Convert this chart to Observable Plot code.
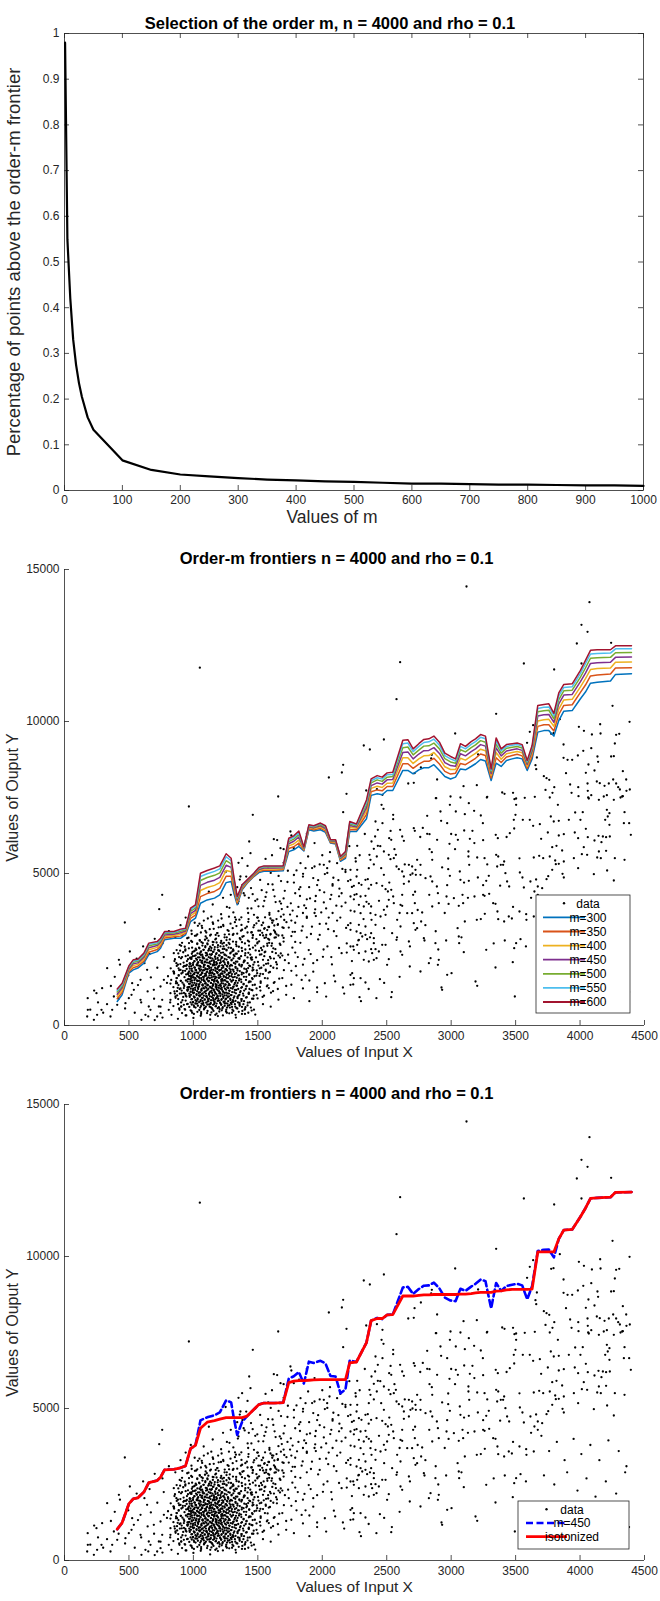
<!DOCTYPE html>
<html><head><meta charset="utf-8">
<script src="https://cdn.jsdelivr.net/npm/d3@7"></script>
<script src="https://cdn.jsdelivr.net/npm/@observablehq/plot@0.6"></script>
<style>
body{margin:0;background:#fff;}
#wrap{position:relative;width:660px;height:1601px;background:#fff;}
#wrap svg{position:absolute;left:0;}
</style></head><body><div id="wrap"></div>
<script>
// ---------- Panel 1 data ----------
const title1 = "Selection of the order m, n = 4000 and rho = 0.1";
const xLabel1 = "Values of m";
const yLabel1 = "Percentage of points above the order-m frontier";
const orderM = [1,5,10,15,20,25,30,40,50,100,150,200,250,300,350,400,450,500,550,600,650,700,750,800,850,900,950,1000];
const pctAbove = [0.98,0.55,0.42,0.33,0.275,0.235,0.205,0.16,0.133,0.066,0.045,0.035,0.031,0.027,0.024,0.022,0.020,0.019,0.017,0.015,0.015,0.014,0.013,0.013,0.012,0.011,0.011,0.010];
const ticksM = [0,100,200,300,400,500,600,700,800,900,1000];
const ticksPct = [0,0.1,0.2,0.3,0.4,0.5,0.6,0.7,0.8,0.9,1];

// ---------- Panels 2 & 3 data ----------
const title2 = "Order-m frontiers n = 4000 and rho = 0.1";
const xLabel2 = "Values of Input X";
const yLabel2 = "Values of Ouput Y";
const ticksX = [0,500,1000,1500,2000,2500,3000,3500,4000,4500];
const ticksY = [0,5000,10000,15000];

const frontierX = [409,447,499,533,569,616,654,719,745,776,848,900,939,978,1016,1055,1107,1164,1205,1254,1293,1314,1340,1378,1417,1469,1508,1547,1624,1697,1740,1779,1818,1857,1896,1934,1986,2025,2064,2103,2141,2180,2213,2265,2343,2379,2426,2465,2503,2547,2625,2664,2705,2749,2788,2827,2866,2909,2951,2995,3034,3072,3111,3155,3189,3228,3266,3310,3349,3388,3429,3473,3512,3551,3590,3628,3672,3719,3758,3797,3835,3874,3939,4003,4042,4081,4133,4236,4275,4399];
const m300 = [790,1010,1720,1830,1890,2050,2330,2430,2540,2820,2870,2870,2980,3420,3530,4020,4130,4190,4300,4700,4740,4350,3970,4460,4680,4900,5030,5070,5070,5090,5720,5780,5890,5740,6440,6400,6440,6350,6000,5970,5400,5500,6380,6380,6800,7570,7620,7590,7730,7730,8390,8390,8280,8410,8480,8480,8580,8390,8190,8110,8170,8440,8410,8520,8610,8750,8700,8060,8630,8520,8720,8770,8810,8770,8390,8770,9650,9700,9700,9520,10030,10340,10360,10750,10970,11260,11290,11330,11550,11570];
const m350 = [880,1090,1770,1900,1950,2120,2410,2500,2610,2880,2920,2940,3030,3520,3630,4240,4340,4410,4510,4910,4910,4470,4030,4500,4700,4920,5070,5110,5110,5130,5820,5880,6000,5770,6480,6440,6490,6400,6020,6000,5440,5550,6450,6440,6940,7690,7750,7720,7860,7860,8610,8610,8460,8600,8690,8690,8790,8600,8360,8270,8300,8620,8580,8700,8790,8930,8880,8140,8810,8650,8830,8880,8920,8870,8460,8870,9840,9890,9890,9690,10230,10530,10550,10960,11200,11500,11530,11560,11760,11770];
const m400 = [960,1170,1820,1970,2010,2190,2490,2570,2680,2930,2960,3000,3070,3610,3720,4440,4540,4610,4700,5100,5060,4580,4080,4530,4730,4950,5100,5150,5150,5160,5910,5970,6100,5800,6510,6470,6530,6440,6050,6030,5470,5590,6520,6490,7060,7800,7870,7830,7970,7980,8810,8810,8620,8770,8870,8880,8980,8780,8510,8420,8420,8790,8730,8860,8950,9090,9040,8220,8980,8760,8940,8980,9010,8970,8530,8960,10020,10060,10070,9840,10410,10710,10730,11140,11410,11710,11740,11760,11950,11960];
const m450 = [1030,1240,1860,2030,2060,2250,2560,2630,2740,2980,3000,3050,3110,3680,3790,4610,4710,4780,4870,5270,5200,4680,4130,4560,4750,4970,5130,5180,5180,5190,5980,6060,6200,5820,6540,6500,6570,6480,6070,6050,5500,5630,6580,6530,7170,7890,7980,7940,8080,8090,8980,9000,8770,8930,9040,9050,9140,8950,8650,8550,8530,8940,8870,9010,9100,9240,9190,8290,9130,8870,9030,9070,9100,9050,8590,9030,10180,10220,10230,9970,10580,10870,10890,11310,11590,11910,11930,11950,12110,12120];
const m500 = [1100,1300,1900,2080,2110,2300,2620,2680,2790,3030,3040,3100,3150,3750,3860,4770,4870,4940,5020,5420,5320,4770,4180,4590,4760,4980,5160,5210,5210,5210,6050,6130,6280,5840,6560,6530,6610,6520,6080,6080,5520,5670,6630,6570,7270,7980,8080,8030,8170,8190,9140,9160,8900,9060,9190,9200,9290,9100,8780,8670,8630,9070,9000,9140,9230,9370,9320,8350,9260,8960,9120,9150,9180,9130,8640,9100,10320,10350,10370,10090,10720,11010,11030,11460,11760,12080,12100,12110,12260,12270];
const m550 = [1150,1350,1930,2120,2150,2340,2670,2720,2830,3060,3070,3140,3180,3810,3920,4900,4990,5070,5150,5550,5420,4840,4210,4610,4780,5000,5180,5230,5230,5230,6110,6190,6340,5860,6580,6550,6640,6550,6100,6100,5540,5700,6670,6600,7350,8050,8150,8110,8250,8260,9270,9290,9010,9180,9310,9330,9420,9220,8880,8770,8700,9180,9100,9250,9340,9480,9430,8400,9370,9040,9180,9220,9240,9190,8680,9160,10430,10470,10480,10190,10840,11120,11140,11580,11900,12220,12240,12250,12390,12390];
const m600 = [1200,1390,1960,2160,2180,2380,2710,2760,2870,3090,3090,3170,3200,3860,3970,5010,5100,5180,5250,5650,5500,4900,4240,4630,4790,5010,5200,5250,5250,5250,6160,6240,6400,5870,6600,6570,6660,6570,6110,6110,5560,5720,6710,6630,7420,8110,8220,8170,8310,8330,9380,9400,9100,9270,9410,9430,9520,9320,8960,8850,8770,9270,9180,9340,9430,9570,9520,8440,9460,9100,9240,9270,9290,9240,8720,9210,10530,10560,10580,10270,10940,11220,11240,11680,12010,12340,12360,12360,12490,12490];
const isotonized = [1030,1240,1860,2030,2060,2250,2560,2630,2740,2980,3000,3050,3110,3680,3790,4350,4550,4600,4650,4700,4700,4700,4700,4700,4750,4970,5130,5180,5180,5190,5850,5900,5920,5920,5930,5940,5950,5950,5950,5950,5950,5950,6500,6530,7170,7890,7960,7960,8080,8090,8700,8700,8700,8720,8740,8740,8750,8750,8750,8750,8750,8760,8760,8780,8800,8820,8820,8820,8860,8870,8900,8920,8920,8920,8920,8930,10150,10150,10150,10150,10580,10870,10890,11310,11590,11910,11930,11950,12110,12120];

const frontierNames = ["m=300","m=350","m=400","m=450","m=500","m=550","m=600"];
const frontierColors = ["#0072BD","#D95319","#EDB120","#7E2F8E","#77AC30","#4DBEEE","#A2142F"];
const legend3Names = ["data","m=450","isotonized"];

// scatter sample (input X, output Y) pairs
const scatterXY = [
// sparse upper points
1050,11770,2162,8575,2152,8322,2051,8158,2188,7620,1658,7533,
3119,14441,4073,13925,4011,13180,4058,12950,3975,12566,4241,12588,4011,11908,3799,11711,3564,11908,2604,11952,2576,10735,3349,10252,4252,10515,4384,9989,3991,9825,4156,9910,4030,9693,4092,9572,4159,9605,4280,9562,4304,9594,3031,9605,3776,9594,3794,9616,3843,10076,3636,9879,3610,9660,3589,9298,2322,9211,2369,9079,2478,9408,3872,9243,4270,9276,3872,8805,3903,8739,3939,8739,3983,8882,4025,9036,4087,9123,4135,8848,4140,8673,4241,8848,4262,8859,4065,8585,4045,8311,4112,8388,3891,8300,4332,8366,4358,8092,3665,8816,3654,8563,3660,8431,3719,8202,3740,8136,3761,8081,3732,7750,3786,7653,3800,7839,3923,7927,3986,7839,4058,7960,4060,7719,4087,7576,4130,8026,4153,7971,4190,7883,4223,7960,4257,8092,4280,7960,4296,7839,4309,7763,4332,7543,4360,7719,4386,7763,4314,7500,4208,7576,4146,7423,3988,7543,4068,7467,3934,7653,2881,7478,2995,7533,3096,7872,3199,7905,3280,7522,3396,7664,3414,7620,3480,7653,3504,7467,3649,7522,2891,8092,2667,7960,2710,7982,2765,8487,2716,8300,2845,8783,2850,8903,2341,7730,2424,7774,2467,7587,3209,8914,
// right-hand sparse cloud
2884,7478,2990,7259,3072,7500,3137,7314,3277,7500,3491,7445,3504,7259,3571,7489,3765,7500,3828,7259,4063,7500,4184,7533,4262,7423,4327,7533,2460,7259,2475,7127,2550,6930,2550,6787,2814,6897,2917,7040,2922,6733,2969,6656,3036,7040,3106,6952,3178,7061,3230,6908,3246,6656,3499,6930,3486,6765,3556,6765,3610,6765,3636,6568,3688,6623,3773,6875,3796,6711,3835,6733,3913,6765,3962,7007,4003,6765,4021,7018,4045,6469,4208,7094,4228,6985,4215,6875,4195,6765,4228,6601,4345,7018,4381,6656,4340,6656,2413,6711,2431,6436,2467,6656,2710,6491,2718,6404,2604,6436,
2814,6305,2832,6294,2891,6108,2987,5976,3036,6272,3052,6108,3101,6415,3145,6140,3165,6404,3248,6097,3346,6272,3362,6162,3455,6327,3489,6480,3698,6140,3750,6349,3835,6250,3874,6294,3959,6349,3985,6162,4060,6195,4143,6239,4177,6217,4202,6195,4231,6217,4394,6272,4112,6086,4166,6031,2410,6217,2382,6053,2519,6162,2535,6108,2620,6217,2633,6075,2832,5800,2271,5910,2400,5812,2431,5910,2366,5614,2374,5450,2423,5559,2478,5724,2516,5614,2529,5472,2555,5505,2571,5614,2736,5450,2762,5285,2853,5450,2977,5494,3134,5724,3134,5559,3140,5285,3202,5526,3259,5505,3349,5614,3365,5559,3385,5285,3411,5395,3641,5526,3683,5581,3714,5505,3765,5559,3784,5866,3817,5910,3807,5428,3835,5318,3874,5395,3861,5757,3952,5505,4014,5636,4029,5866,4055,5614,4146,5724,4133,5526,4161,5505,4202,5746,4270,5505,4345,5450,2258,5505,2260,5395,2271,5121,2266,4901,
2219,5121,2361,5176,2457,5176,2478,4956,2576,5230,2594,5143,2620,5066,2633,4901,2672,5285,2684,4956,2697,5230,2723,5121,2726,4956,2762,4956,2801,4847,2840,4901,2853,4737,2977,5143,2990,4923,3067,5066,3072,4792,3137,4759,3207,4869,3248,4616,3272,4759,3292,4923,3357,5230,3403,5285,3421,5011,3434,4737,3450,4572,3533,5033,3553,4869,3564,4540,3615,4737,3659,4803,3672,4572,3706,4518,3740,4814,3753,4912,3784,5121,3812,5307,3864,4989,3874,4869,3985,5176,4107,4978,4210,5099,4262,4770,2219,4792,2245,4594,2284,4682,2304,4627,2335,4792,2353,4814,2379,4627,2421,4682,2465,4594,2491,4485,2509,4408,2535,4463,2633,4660,2672,4737,2705,4298,2889,4572,2969,4616,2897,4353,2964,4243,3021,4189,3088,4298,3181,4243,3248,4298,3259,4265,3295,4331,3646,4408,3672,4298,
2219,4243,2266,4320,2297,4243,2335,4265,2343,4068,2361,4002,2379,3915,2284,3969,2322,3915,2250,3750,2297,3695,2374,3695,2413,3640,2452,3586,2478,3805,2503,3915,2550,4243,2516,4134,2555,4024,2607,3969,2620,3936,2491,3640,2581,3476,2659,3695,2697,3695,2710,3366,2767,3421,2607,3257,2718,4024,2775,3717,2853,3915,2904,4024,3059,3936,3093,4024,3106,3421,3199,3476,3261,3673,3326,4024,3344,4002,3359,3750,3365,3498,3411,3421,3447,3586,3471,3520,3530,3750,3582,3662,3584,3476,3641,3586,2219,3366,2284,3311,2335,3257,2382,3476,2413,3311,
2219,3147,2266,3092,2297,3037,2310,2928,2335,2983,2348,2840,2379,3037,2400,2873,2400,2708,2379,2511,2413,2511,2284,2818,2271,2654,2245,2489,2219,2599,2284,2379,2335,2434,2387,2379,2322,2160,2361,2105,2400,2160,2421,2215,2439,2434,2465,2654,2491,2654,2542,3037,2576,2818,2607,2434,2620,2325,2516,2182,2503,1996,2447,1524,2672,2763,2679,1941,2723,3147,2736,3202,2762,1776,2788,2873,2793,2796,2840,2215,2827,2050,2904,2160,2878,2708,2961,2796,2897,1996,2969,1667,3003,1722,3059,2928,3062,2708,3098,2412,3189,1447,3202,1305,3272,2489,3344,1908,3416,2796,3478,2083,3489,2544,3504,2708,3538,2840,2925,1250,2930,1173,3494,954,2219,1667,2219,1338,2232,1722,2245,1557,2297,1557,2335,1414,2289,932,2535,932,
// lower right (under the first legend)
3700,4100,3760,3600,3820,3900,3880,3300,3950,4000,4010,3500,4080,3800,4150,3300,4220,3950,4300,3600,4360,3100,3720,2800,3800,2500,3900,2900,3980,2300,4050,2700,4120,2100,4200,2600,4280,2200,4350,2900,3750,1800,3850,1500,3950,1900,4060,1300,4170,1700,4260,1200,4340,1600,3780,900,3920,700,4100,1000,4240,600,4380,1100,
// left / middle sparse points
965,7204,1461,6930,1433,6053,1443,5669,1378,5505,1365,4901,1624,6129,1676,5833,1753,6382,1779,5833,1831,5340,1870,5176,1940,5230,2012,5285,2038,5176,2056,5395,2115,5340,2162,7018,2180,5121,758,4298,735,3827,468,3388,507,2434,422,2160,331,1886,248,1064,292,1228,181,515,176,296,253,351,287,515,228,186,370,515,357,296,409,680,383,954,473,735,499,899,538,1173,525,1393,590,1502,590,844,641,1831,628,351,597,186,654,625,667,515,693,1173,732,625,719,296,745,1283,758,844,809,515,771,1502,822,1064,861,954,874,1393,900,1831,745,406,822,844,892,515,926,680,
420,880,445,1230,470,560,495,1650,520,1010,545,420,570,1330,595,760,620,2050,645,1120,670,1580,695,880,720,1900,745,620,770,2250,795,1400,820,760,845,1780,870,2480,895,1050,560,2200,610,2600,660,2350,700,2850,760,2700,810,3100,860,2900,900,3300,940,3550,980,3800,650,300,700,180,760,260,830,350,880,220,940,330,1000,250,1060,380,1130,200,1190,310,1260,420,1330,260,1400,380,1470,520,1540,700,1600,620,1660,850,330,700,360,1300,390,1600,430,2000,300,420,260,760,230,1150,200,520,180,900,
// middle band
1610,5600,1650,6100,1700,5800,1760,6250,1820,5950,1880,6300,1940,6000,2000,5600,1720,1300,1780,900,1840,1500,1900,800,1960,1250,2030,950,2100,1450,2170,1050,2240,1350,2300,800,2360,1200,2420,900,2480,1400,2540,1100,2600,1600,2280,2800,2320,3500,2360,4500,2400,5300,2440,4100,2480,3200,2520,4700,2560,5800,2600,3700,2640,5300,2680,2600,2720,4400,2760,6200,2800,3300,2850,5700,2900,2500,2950,3700,3000,6300,3050,3200,3100,4700,2250,4300,2290,5600,2330,6300,2370,2900,2450,5900,2530,6400,2580,2900,2620,4300,2700,5000,2740,3800,2780,6500,2830,4300,2880,3100,2930,5200,2980,4000,3030,5800,3080,2900,3130,4200,3180,6000,3230,3500,3280,5300,3330,2700,3380,4600,3430,6200,3480,3900,3530,5500,3580,2600,3620,4200,
// diagonal extension of the cloud
1310,3720,1345,4010,1372,3560,1398,4280,1421,3850,1447,4520,1470,3640,1496,4150,1518,4790,1542,3920,1567,4380,1590,3700,1614,4640,1638,4060,1661,4920,1686,3830,1709,4430,1733,5090,1756,4020,1780,4700,1804,3590,1827,4260,1851,4990,1874,3860,1898,4550,1921,5180,1945,4090,1968,4780,1992,3720,2015,4380,2039,5020,2062,4160,2086,4860,2109,3940,2133,4500,2156,5150,2180,4040,1330,3480,1380,4620,1430,4200,1480,5000,1530,4450,1580,5200,1630,4250,1680,4750,1730,3900,1780,4950,1830,4550,1880,4150,1930,4850,1980,4450,2030,3850,2080,4650,2130,4250,2200,4750,1260,3900,1290,4300,1360,4800,1420,5250,1500,3550,1550,4100,1620,3450,1700,3650,1760,3450,1850,3700,1950,3600,2050,3550,
// right halo of the dense cloud
1520,1150,1548,980,1575,1320,1602,1080,1630,1430,1655,1200,1690,1560,1720,1010,1760,1340,1800,1650,1850,1220,1900,1480,1960,1100,2020,1390,2090,1640,2160,1250,
1515,1880,1550,2280,1585,1740,1612,2420,1648,2010,1675,2650,1702,1820,1735,2330,1768,2560,1795,1950,1830,2720,1862,2190,1895,2480,1930,1770,1968,2830,2005,2260,2040,2600,2075,2010,2110,2940,2150,2380,2190,2700,2230,2120,
1530,3300,1565,2980,1598,3520,1625,3130,1660,3760,1690,2960,1722,3400,1750,3650,1788,3080,1815,3900,1848,3260,1880,3580,1912,3010,1945,3820,1980,3340,2012,4050,2046,3170,2080,3700,2115,3450,2150,3920,2185,3210,2220,3780,2245,4150,
1560,4230,1620,4460,1670,4080,1730,4720,1790,4350,1850,4900,1905,4180,1960,4620,2020,4980,2070,4300,2125,4780,2180,5050,2230,4560,
1600,5020,1700,5350,1800,5100,1890,5560,1980,5300,2060,5700,2140,5480,2210,5900,
1450,3850,1480,4100,1390,4350,1300,4700,1410,4900,1250,5050,1560,5480,1350,5350,
1580,2850,1610,2700,1645,3000,1700,2880,1740,3220,1790,2750,1840,3120,1880,2900,1920,3250,1980,2980,2030,3350,2090,3100,2140,3550,2200,3300,
1740,2050,1790,2400,1850,2000,1910,2350,1960,2150,2010,2500,2070,2250,2130,2550,2190,2400,2240,2600,
1510,2450,1545,2600,1580,2150,1620,1900,1660,2300,1710,2150,1760,1800,1810,2250,1870,1650,1930,2050,
// edges of the dense cloud
845,640,862,910,878,1240,890,560,903,1470,915,830,928,1960,940,2280,952,1170,965,2540,978,760,986,1620,850,1720,868,2050,885,1880,897,2460,912,2720,925,1350,938,1040,950,2120,962,2890,975,1510,988,2360,856,1050,872,1560,889,2250,906,630,918,1800,933,2590,946,950,958,1690,971,2030,983,2780,848,2380,865,1390,881,700,894,2650,909,1150,921,2410,936,520,948,1860,961,1260,974,2230,987,3010,857,2180,873,1130,886,1640,899,2020,914,2950,927,1070,
1425,1890,1438,2510,1450,1170,1462,2960,1474,1620,1486,2240,1498,890,1510,2770,1522,1450,1534,3050,1546,1980,1558,2430,1570,1290,1582,3240,1594,1760,1606,2620,1618,1130,1630,2890,1642,2080,1654,3310,1666,1540,1678,2370,1432,2760,1444,1440,1456,2170,1468,980,1480,2630,1492,1810,1504,3120,1516,1270,1528,2340,1540,1690,1552,2880,1564,2030,1576,1550,1588,2720,1600,2210,1612,3380,1624,1400,1636,2510,1648,1880,1660,2960,1672,2240,1429,1050,1441,2330,1453,3070,1465,2000,1477,1340,1489,2840,1501,2090,1513,1630,1525,2550,1537,940,1549,3180,1561,1840,1573,2690,1585,1230,1597,2990,
912,410,945,330,978,500,1004,380,1031,450,1057,320,1082,530,1106,410,1131,350,1156,480,1180,390,1204,540,1229,330,1253,460,1278,400,1303,520,1327,350,1352,450,1377,380,1401,540,1426,420,1452,490,1480,360,1060,440,1140,430,1220,500,1300,420,1380,480,990,420,1170,350,
1012,2950,1035,3280,1058,3060,1081,3450,1104,2870,1127,3170,1150,3390,1173,2980,1196,3230,1219,3520,1242,2900,1265,3140,1288,3350,1311,3010,1334,3270,1357,3480,1380,2920,1403,3200,1426,3410,1449,3060,1472,3300,1495,3550,1518,3120,1541,3380,1564,2900,1587,3240,1610,3460,1633,3090,1656,3330,1679,3580,1047,3350,1093,3110,1139,3580,1185,3040,1231,3310,1277,3000,1323,3560,1369,3120,1415,3250,1461,2980,1507,3440,1553,3200,1599,3010,1645,3500,1691,3230,
// dense cloud
905,620,932,540,951,700,968,610,985,480,1003,660,1017,590,1030,720,1046,510,1059,640,1071,700,1084,560,1097,620,1110,480,1122,690,1135,600,1149,530,1162,710,1176,640,1188,570,1201,460,1215,680,1228,600,1242,730,1255,520,1268,650,1283,590,1296,700,1310,480,1325,620,1341,560,1358,690,1377,610,1398,520,1420,660,1446,590,
882,870,905,760,921,940,940,820,956,710,970,980,984,860,997,780,1009,930,1021,720,1033,850,1044,990,1055,800,1066,910,1077,740,1088,860,1099,960,1110,790,1121,880,1132,710,1143,940,1154,830,1165,760,1176,900,1187,980,1198,820,1209,730,1220,870,1231,950,1242,790,1253,880,1264,720,1276,960,1288,840,1300,770,1313,910,1327,810,1342,940,1358,740,1375,870,1393,800,1414,930,1438,760,1465,880,
853,1120,874,990,893,1200,910,1060,926,1230,941,980,955,1140,968,1050,980,1210,992,1100,1003,960,1014,1170,1024,1030,1034,1240,1044,1090,1054,990,1064,1150,1073,1060,1083,1220,1092,1120,1102,970,1111,1180,1121,1040,1130,1110,1140,1230,1150,1000,1159,1160,1169,1070,1179,1200,1189,960,1199,1130,1209,1050,1220,1240,1231,1110,1242,990,1254,1180,1266,1060,1278,1150,1291,1000,1304,1210,1318,1090,1333,1170,1349,980,1366,1130,1385,1050,1406,1200,1430,1080,1458,1160,1490,1010,
822,1380,845,1260,866,1450,884,1330,900,1220,915,1410,929,1300,942,1480,954,1250,966,1370,977,1440,988,1290,998,1210,1008,1400,1018,1330,1028,1480,1037,1260,1046,1360,1055,1430,1064,1210,1073,1310,1082,1470,1091,1380,1100,1240,1109,1340,1118,1450,1127,1280,1136,1400,1145,1220,1154,1330,1163,1490,1172,1370,1181,1260,1190,1430,1199,1310,1209,1210,1219,1390,1229,1470,1239,1280,1249,1350,1260,1440,1271,1230,1283,1330,1296,1460,1309,1270,1323,1400,1338,1310,1354,1480,1371,1240,1390,1370,1411,1290,1434,1450,1460,1330,1490,1220,1522,1400,
803,1620,828,1500,850,1710,869,1560,886,1660,902,1470,917,1740,931,1590,944,1680,956,1520,967,1630,978,1710,988,1480,998,1580,1007,1690,1016,1540,1025,1750,1034,1610,1043,1470,1052,1660,1061,1560,1070,1720,1079,1500,1088,1630,1097,1690,1106,1550,1115,1470,1124,1650,1133,1730,1142,1580,1151,1500,1160,1680,1169,1610,1178,1460,1187,1740,1196,1570,1206,1650,1216,1510,1226,1700,1236,1600,1247,1480,1258,1670,1270,1560,1282,1730,1295,1620,1308,1490,1322,1690,1337,1570,1353,1650,1370,1510,1389,1720,1410,1600,1433,1680,1459,1530,1488,1640,1520,1700,1555,1560,
824,1880,849,1760,871,1960,890,1820,907,1710,922,1930,936,1800,949,1990,961,1740,972,1870,983,1950,993,1780,1003,1700,1012,1900,1021,1820,1030,1980,1039,1740,1048,1860,1057,1930,1066,1720,1075,1810,1084,1970,1093,1880,1102,1750,1111,1850,1120,1940,1129,1790,1138,1900,1147,1720,1156,1830,1165,1990,1174,1870,1183,1760,1192,1920,1201,1810,1211,1700,1221,1890,1231,1960,1241,1780,1252,1850,1263,1940,1275,1730,1287,1830,1300,1970,1313,1770,1327,1900,1342,1810,1358,1980,1376,1740,1395,1870,1416,1790,1440,1950,1466,1830,1495,1720,1527,1900,1562,1800,1600,1960,
853,2120,880,2000,904,2210,924,2070,942,1960,958,2180,972,2050,985,2240,997,1990,1009,2110,1020,2200,1031,2030,1042,1970,1052,2150,1062,2080,1072,2230,1082,1990,1092,2100,1102,2170,1112,1960,1122,2060,1132,2220,1142,2130,1152,2000,1162,2090,1172,2190,1182,2040,1192,2150,1202,1970,1213,2080,1224,2240,1235,2120,1246,2010,1258,2170,1270,2060,1283,1960,1296,2140,1310,2210,1325,2030,1341,2100,1358,2190,1377,1990,1398,2130,1421,2050,1446,2220,1474,2080,1505,1970,1540,2160,1580,2040,1625,2200,
883,2370,912,2250,937,2460,958,2310,977,2200,994,2420,1009,2290,1023,2490,1036,2240,1048,2360,1060,2440,1072,2270,1084,2210,1096,2390,1108,2320,1120,2480,1132,2230,1144,2350,1156,2430,1168,2260,1180,2380,1192,2470,1204,2300,1217,2210,1230,2400,1243,2330,1257,2490,1271,2250,1286,2370,1302,2440,1319,2280,1337,2360,1357,2220,1378,2450,1401,2310,1426,2390,1453,2240,1483,2470,1516,2330,1553,2410,1594,2260,1640,2380,1690,2300,
905,2620,938,2500,966,2710,990,2560,1011,2460,1030,2680,1047,2540,1063,2740,1078,2490,1093,2610,1108,2700,1122,2530,1137,2470,1151,2650,1166,2580,1180,2730,1195,2480,1210,2600,1225,2690,1241,2520,1257,2640,1274,2720,1292,2550,1311,2460,1331,2670,1353,2590,1377,2740,1403,2500,1431,2630,1462,2560,1496,2700,1533,2480,1574,2620,1620,2540,1670,2690,
952,2870,990,2750,1022,2960,1049,2810,1073,2710,1095,2930,1116,2790,1136,2990,1156,2740,1176,2860,1196,2950,1216,2780,1237,2720,1259,2900,1282,2830,1306,2980,1332,2750,1360,2870,1390,2940,1423,2790,1459,2880,1498,2730,1541,2960,1588,2820,1640,2900,1700,2760,1760,2940,
985,3120,1030,3000,1068,3210,1100,3060,1130,2960,1158,3180,1186,3040,1214,3240,1243,2990,1273,3110,1305,3200,1340,3020,1378,3150,1420,3060,1466,3230,1517,2980,1573,3140,1635,3050,1700,3210,1770,3080,
1010,3380,1065,3280,1112,3520,1153,3340,1192,3450,1233,3270,1276,3580,1322,3400,1373,3310,1428,3500,1489,3360,1556,3560,1628,3290,1705,3470,1790,3380,1880,3540,
1080,3750,1150,3980,1215,3660,1280,3870,1350,4080,1425,3700,1505,3920,1590,3640,1680,4010,1770,3780,1860,3950,1940,3700,
1120,4400,1230,4200,1340,4550,1460,4320,1580,4650,1700,4180,1820,4480,1950,4260,2080,4600,2150,4350,
987,690,996,760,1006,610,1015,730,1025,800,1035,650,1044,770,1053,590,1063,720,1072,810,1081,660,1090,580,1099,750,1108,690,1117,800,1126,620,1135,740,1144,570,1153,680,1162,790,1171,630,1180,720,1189,810,1198,600,1207,760,1216,690,1225,560,1234,780,1243,650,1252,730,1261,590,1270,800,1280,670,1290,740,1300,610,1311,780,1322,700,1334,570,1346,760,1359,650,1373,810,1388,700,1404,600,1422,750,
972,940,981,1010,990,870,999,1060,1008,920,1016,830,1025,1000,1033,890,1041,1070,1049,960,1057,840,1065,1030,1073,910,1081,980,1089,850,1097,1050,1105,930,1113,870,1121,1010,1129,960,1137,830,1145,1070,1153,900,1161,990,1169,860,1177,1040,1185,940,1193,880,1201,1060,1209,970,1217,840,1225,1020,1233,910,1241,1070,1249,860,1258,990,1267,930,1276,1050,1286,880,1296,1000,1307,830,1318,960,1330,1060,1343,900,1357,1010,1372,870,1389,980,1408,920,1430,1040,1455,880,
960,1190,969,1270,978,1110,987,1320,996,1160,1005,1080,1013,1240,1021,1310,1029,1130,1037,1200,1045,1290,1053,1090,1061,1170,1069,1330,1077,1230,1085,1100,1093,1280,1101,1150,1109,1320,1117,1210,1125,1080,1133,1260,1141,1140,1149,1300,1157,1190,1165,1110,1173,1270,1181,1330,1189,1160,1197,1240,1205,1090,1213,1300,1221,1180,1229,1120,1237,1290,1245,1210,1254,1080,1263,1250,1272,1320,1281,1140,1291,1230,1301,1100,1312,1280,1323,1170,1335,1310,1348,1200,1362,1090,1377,1260,1394,1150,1413,1300,1435,1200,
955,1440,964,1530,973,1370,982,1560,991,1410,1000,1330,1008,1490,1016,1560,1024,1380,1032,1460,1040,1340,1048,1550,1056,1420,1064,1500,1072,1350,1080,1570,1088,1450,1096,1390,1104,1520,1112,1330,1120,1470,1128,1560,1136,1400,1144,1500,1152,1360,1160,1440,1168,1550,1176,1330,1184,1480,1192,1410,1200,1570,1208,1350,1216,1460,1224,1530,1232,1380,1240,1490,1249,1340,1258,1560,1267,1430,1276,1370,1286,1510,1296,1440,1307,1580,1318,1350,1330,1470,1343,1400,1357,1540,1372,1430,1389,1350,1408,1500,1430,1420,1455,1560,
958,1690,967,1780,976,1620,985,1810,994,1660,1003,1580,1011,1740,1019,1820,1027,1630,1035,1710,1043,1590,1051,1800,1059,1670,1067,1750,1075,1600,1083,1820,1091,1700,1099,1640,1107,1770,1115,1580,1123,1720,1131,1810,1139,1650,1147,1750,1155,1610,1163,1690,1171,1800,1179,1580,1187,1730,1195,1660,1203,1820,1211,1600,1219,1710,1227,1780,1235,1630,1243,1740,1252,1590,1261,1810,1270,1680,1279,1620,1289,1760,1299,1690,1310,1830,1321,1600,1333,1720,1346,1650,1360,1790,1375,1680,1392,1600,1411,1750,1433,1670,1458,1810,
968,1940,978,2030,988,1870,998,2060,1007,1910,1016,1830,1025,1990,1034,2070,1043,1880,1052,1960,1061,1840,1070,2050,1079,1920,1088,2000,1097,1850,1106,2070,1115,1950,1124,1890,1133,2020,1142,1830,1151,1970,1160,2060,1169,1900,1178,2000,1187,1860,1196,1940,1205,2050,1214,1830,1223,1980,1232,1910,1241,2070,1250,1850,1260,1960,1270,2030,1280,1880,1291,1990,1302,1840,1314,2060,1327,1930,1341,1870,1356,2010,1372,1940,1390,2080,1410,1850,1433,1970,1460,1900,
985,2190,996,2280,1007,2120,1018,2310,1028,2160,1038,2080,1048,2240,1058,2320,1068,2130,1078,2210,1088,2090,1098,2300,1108,2170,1118,2250,1128,2100,1138,2320,1148,2200,1158,2140,1168,2270,1178,2080,1188,2220,1198,2310,1209,2150,1220,2250,1231,2110,1243,2190,1255,2300,1268,2080,1282,2230,1297,2160,1313,2320,1330,2100,1349,2210,1370,2280,1394,2130,1420,2240,1450,2170,
1005,2440,1018,2530,1031,2370,1044,2560,1056,2410,1068,2330,1080,2490,1092,2570,1104,2380,1116,2460,1128,2340,1140,2550,1152,2420,1164,2500,1176,2350,1188,2570,1201,2450,1214,2390,1228,2520,1242,2330,1257,2470,1273,2560,1290,2400,1308,2500,1328,2360,1350,2440,1375,2550,1403,2380,
1030,2700,1050,2790,1070,2630,1090,2820,1110,2670,1130,2590,1150,2750,1170,2830,1191,2640,1212,2720,1234,2600,1257,2810,1281,2680,1307,2760,1335,2610,1366,2830,1400,2700
];

// ---------- helpers ----------
const FONT = '"Liberation Sans", Arial, Helvetica, sans-serif';
const AX = "#262626";
const points = [];
for (let i = 0; i < scatterXY.length; i += 2) points.push({x: scatterXY[i], y: scatterXY[i + 1]});
const series = (ys) => frontierX.map((x, i) => ({x, y: ys[i]}));
const frontierSeries = [m300, m350, m400, m450, m500, m550, m600];

function inward(xVals, yVals, fw, fh, allSides) {
  const t = 5, o = {stroke: AX, strokeWidth: 0.8};
  const m = [
    Plot.ruleX(xVals, {x: d => d, insetTop: fh - t, ...o}),
    Plot.ruleY(yVals, {y: d => d, insetRight: fw - t, ...o})
  ];
  if (allSides) {
    m.push(Plot.ruleX(xVals, {x: d => d, insetBottom: fh - t, ...o}));
    m.push(Plot.ruleY(yVals, {y: d => d, insetLeft: fw - t, ...o}));
  }
  return m;
}

function legend(svg, box, rows) {
  const g = d3.select(svg).append("g");
  g.append("rect").attr("x", box.x).attr("y", box.y).attr("width", box.w).attr("height", box.h)
    .attr("fill", "white").attr("stroke", AX).attr("stroke-width", 0.8);
  rows.forEach((r, i) => {
    const cy = box.y0 + i * box.step;
    if (r.type === "dot") {
      g.append("circle").attr("cx", (box.l1 + box.l2) / 2).attr("cy", cy).attr("r", 1.2).attr("fill", "black");
    } else {
      g.append("line").attr("x1", box.l1).attr("x2", box.l2).attr("y1", cy).attr("y2", cy)
        .attr("stroke", r.color).attr("stroke-width", r.width).attr("stroke-dasharray", r.dash || null);
    }
    g.append("text").attr("x", box.tx).attr("y", cy).attr("dy", "0.35em").attr("font-size", 12)
      .attr("font-family", FONT).attr("fill", "black").text(r.label);
  });
}

const wrap = document.getElementById("wrap");

// ---------- Panel 1 ----------
const p1 = Plot.plot({
  width: 660, height: 530, marginLeft: 64, marginRight: 17, marginTop: 33, marginBottom: 40,
  style: {fontFamily: FONT, fontSize: "12px", background: "white", overflow: "visible"},
  x: {domain: [0, 1000]},
  y: {domain: [0, 1]},
  marks: [
    Plot.frame({stroke: AX, strokeWidth: 0.8}),
    ...inward(ticksM, ticksPct, 579, 457, true),
    Plot.axisX({ticks: ticksM, tickSize: 0, tickPadding: 5, label: null, fill: AX, fontSize: 12, tickFormat: d => String(d)}),
    Plot.axisY({ticks: ticksPct, tickSize: 0, tickPadding: 5, label: null, fill: AX, fontSize: 12, tickFormat: d => String(+d.toFixed(1))}),
    Plot.line(orderM.map((m, i) => ({m, p: pctAbove[i]})), {x: "m", y: "p", stroke: "black", strokeWidth: 2.2}),
    Plot.text([title1], {text: d => d, frameAnchor: "top", dy: -16, dx: -24, fontSize: 16.5, fontWeight: "bold", fill: "black"}),
    Plot.text([xLabel1], {text: d => d, frameAnchor: "bottom", dy: 32, dx: -22, fontSize: 17.5, fill: AX}),
    Plot.text([yLabel1], {text: d => d, frameAnchor: "left", textAnchor: "middle", dx: -50, rotate: -90, fontSize: 18.5, fill: AX})
  ]
});
p1.style.top = "0px";
wrap.appendChild(p1);

// ---------- Panels 2 & 3 ----------
function scatterPanel(height, marginTop, marginBottom, lineMarks) {
  return Plot.plot({
    width: 660, height, marginLeft: 64, marginRight: 16, marginTop, marginBottom,
    style: {fontFamily: FONT, fontSize: "12px", background: "white", overflow: "visible"},
    x: {domain: [0, 4500]},
    y: {domain: [0, 15000]},
    marks: [
      Plot.dot(points, {x: "x", y: "y", r: 1.15, fill: "black", stroke: null}),
      ...lineMarks,
      Plot.ruleX([0], {stroke: AX, strokeWidth: 0.8}),
      Plot.ruleY([0], {stroke: AX, strokeWidth: 0.8}),
      ...inward(ticksX, ticksY, 580, 456, false),
      Plot.axisX({ticks: ticksX, tickSize: 0, tickPadding: 6, label: null, fill: AX, fontSize: 12, tickFormat: d => String(d)}),
      Plot.axisY({ticks: ticksY, tickSize: 0, tickPadding: 5, label: null, fill: AX, fontSize: 12, tickFormat: d => String(d)}),
      Plot.text([title2], {text: d => d, frameAnchor: "top", dy: -17, dx: -18, fontSize: 16.5, fontWeight: "bold", fill: "black"}),
      Plot.text([xLabel2], {text: d => d, frameAnchor: "bottom", dy: 31, fontSize: 15.5, fill: AX}),
      Plot.text([yLabel2], {text: d => d, frameAnchor: "left", textAnchor: "middle", dx: -52, rotate: -90, fontSize: 16, fill: AX})
    ]
  });
}

const p2 = scatterPanel(540, 39, 45,
  frontierSeries.map((s, k) => Plot.line(series(s), {x: "x", y: "y", stroke: frontierColors[k], strokeWidth: 1.5})));
p2.style.top = "530px";
legend(p2, {x: 536, y: 365, w: 94, h: 118, y0: 373.3, step: 14.1, l1: 543, l2: 585, tx: 588},
  [{type: "dot", label: "data"}].concat(frontierNames.map((n, k) => ({type: "line", label: n, color: frontierColors[k], width: 1.8}))));
wrap.appendChild(p2);

const p3 = scatterPanel(531, 34, 41, [
  Plot.line(series(m450), {x: "x", y: "y", stroke: "#0000FF", strokeWidth: 2.6, strokeDasharray: "7,3.5"}),
  Plot.line(series(isotonized), {x: "x", y: "y", stroke: "#FF0000", strokeWidth: 2.8})
]);
p3.style.top = "1070px";
legend(p3, {x: 518, y: 431, w: 111, h: 48, y0: 439.3, step: 13.7, l1: 526, l2: 567, tx: 572},
  [{type: "dot", label: legend3Names[0]},
   {type: "line", label: legend3Names[1], color: "#0000FF", width: 2.6, dash: "7,3.5"},
   {type: "line", label: legend3Names[2], color: "#FF0000", width: 2.8}]);
wrap.appendChild(p3);
</script></body></html>
